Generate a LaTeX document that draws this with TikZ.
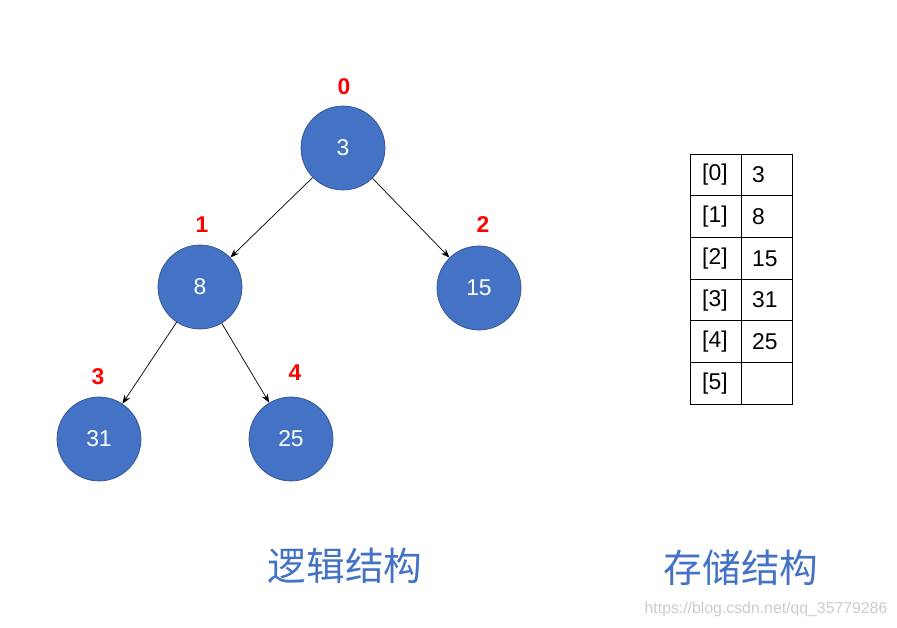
\documentclass[tikz,border=0pt]{standalone}
\usepackage{fontspec}
\setmainfont{Liberation Sans}
\newfontfamily\cjk{Noto Sans CJK SC}
\usetikzlibrary{arrows.meta, positioning}
\definecolor{heapblue}{HTML}{4472C4}
\definecolor{heapedge}{HTML}{2F528F}
\begin{document}
\begin{tikzpicture}[x=0.02cm, y=-0.02cm,
    heapnode/.style={circle, fill=heapblue, draw=heapedge, minimum size=1.68cm, inner sep=0pt, text=white, font=\fontsize{13}{15}\selectfont},
    idxlabel/.style={text=red, font=\bfseries\fontsize{13}{15}\selectfont},
    link/.style={-{Stealth[length=5pt]}, thin},
    cell/.style={font=\fontsize{13}{15}\selectfont, anchor=west}]
        \useasboundingbox (0,0) rectangle (897,628);
        % Logical structure
        \node[heapnode] (n0) at (343,148) {3};
        \node[heapnode] (n1) at (200,287) {8};
        \node[heapnode] (n2) at (479,288) {15};
        \node[heapnode] (n3) at (99,439) {31};
        \node[heapnode] (n4) at (291,439) {25};
        \node[idxlabel] (l0) at (344,87) {0};
        \node[idxlabel] (l1) at (202,225) {1};
        \node[idxlabel] (l2) at (483,225) {2};
        \node[idxlabel] (l3) at (98,377) {3};
        \node[idxlabel] (l4) at (295,373) {4};
        \draw[link] (n0) -- (n1);
        \draw[link] (n0) -- (n2);
        \draw[link] (n1) -- (n3);
        \draw[link] (n1) -- (n4);

        % Storage structure
        \foreach \k/\v in {0/3,1/8,2/15,3/31,4/25,5/{}} {
            \draw (690,154+\k*41.7) rectangle (741,195.7+\k*41.7);
            \draw (741,154+\k*41.7) rectangle (792,195.7+\k*41.7);
            \node[cell] at (696,175+\k*41.7) {[\k]};
            \node[cell] at (746,175+\k*41.7) {\v};
        }

        % Captions
        \node[text=heapblue, font=\cjk\fontsize{22}{26}\selectfont] (cap1) at (345,566) {逻辑结构};
        \node[text=heapblue, font=\cjk\fontsize{22}{26}\selectfont] (cap2) at (741,568) {存储结构};
        \node[text=gray!40, font=\fontsize{9}{11}\selectfont] (mark) at (766,609) {https://blog.csdn.net/qq\_35779286};
\end{tikzpicture}
\end{document}
